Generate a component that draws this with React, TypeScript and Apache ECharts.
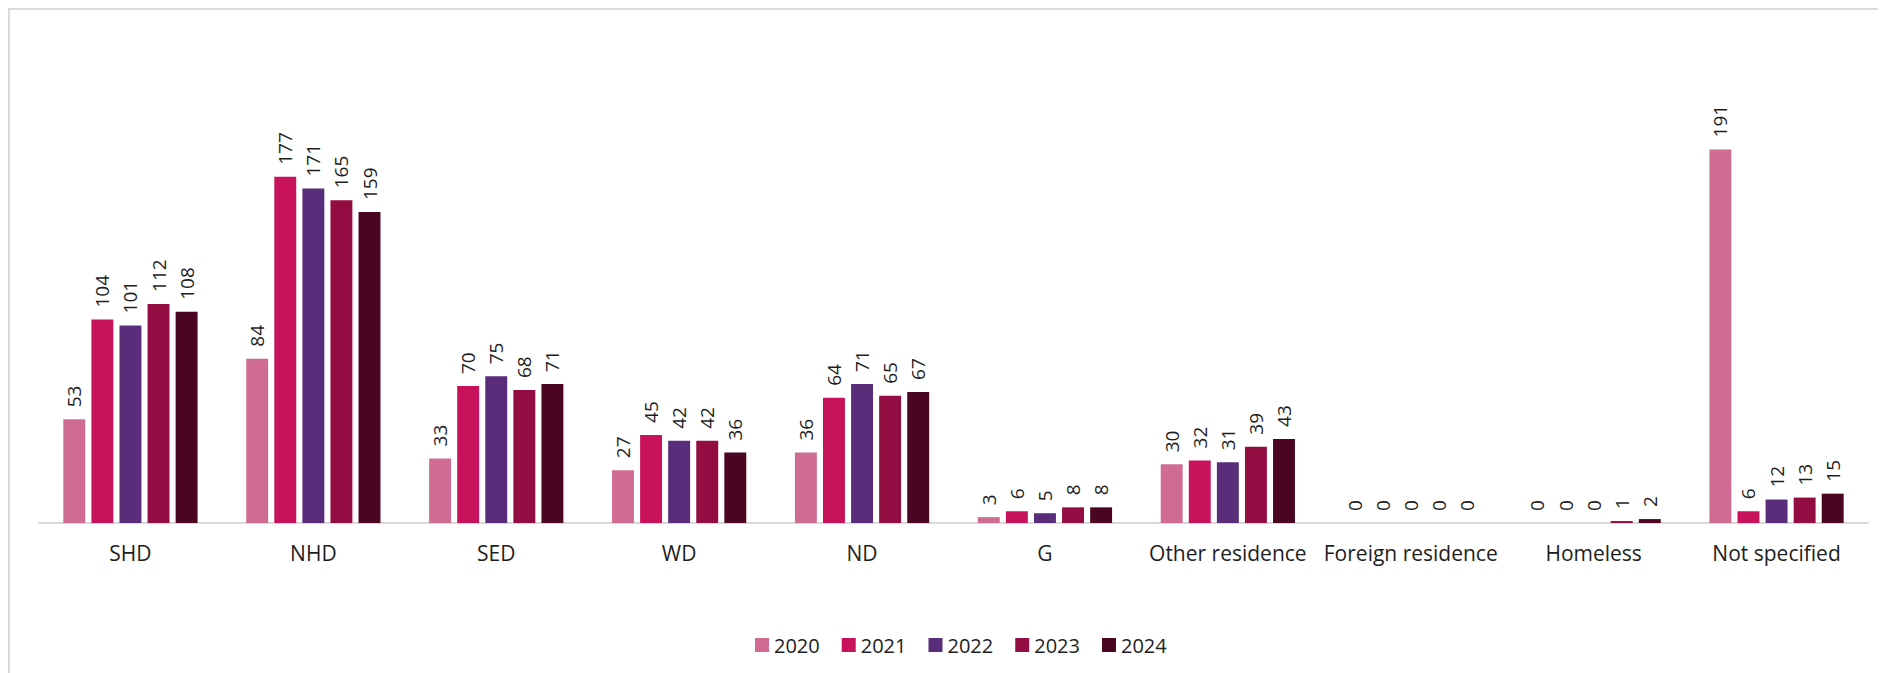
import React, { useEffect, useRef } from "react";
import * as echarts from "echarts";

const categories = [
  "SHD",
  "NHD",
  "SED",
  "WD",
  "ND",
  "G",
  "Other residence",
  "Foreign residence",
  "Homeless",
  "Not specified",
];

const years = ["2020", "2021", "2022", "2023", "2024"];

const values2020 = [53, 84, 33, 27, 36, 3, 30, 0, 0, 191];
const values2021 = [104, 177, 70, 45, 64, 6, 32, 0, 0, 6];
const values2022 = [101, 171, 75, 42, 71, 5, 31, 0, 0, 12];
const values2023 = [112, 165, 68, 42, 65, 8, 39, 0, 1, 13];
const values2024 = [108, 159, 71, 36, 67, 8, 43, 0, 2, 15];

const seriesValues = [values2020, values2021, values2022, values2023, values2024];
const colors = ["#D06C93", "#C8125B", "#5A2D7A", "#940D42", "#4A0522"];

const FONT = "'Open Sans', sans-serif";
const TEXT = "#1e1e1e";

export default function App() {
  const ref = useRef<HTMLDivElement>(null);

  useEffect(() => {
    if (!ref.current) return;
    const chart = echarts.init(ref.current, undefined, { renderer: "svg" });
    chart.setOption({
      animation: false,
      backgroundColor: "#ffffff",
      grid: { left: 29, right: 18, top: 24, bottom: 150, containLabel: false },
      legend: {
        data: years,
        left: 740,
        top: 620,
        icon: "rect",
        itemWidth: 14,
        itemHeight: 14,
        itemGap: 22,
        textStyle: { fontFamily: FONT, fontSize: 20, color: TEXT },
      },
      xAxis: {
        type: "category",
        data: categories,
        axisTick: { show: false },
        axisLine: { lineStyle: { color: "#d9d9d9", width: 2 } },
        axisLabel: {
          fontFamily: FONT,
          fontSize: 21,
          color: TEXT,
          margin: 19,
          interval: 0,
        },
      },
      yAxis: {
        type: "value",
        min: 0,
        max: 250,
        show: false,
        splitLine: { show: false },
      },
      series: years.map((y, i) => ({
        name: y,
        type: "bar",
        data: seriesValues[i],
        barGap: "28%",
        barCategoryGap: "26.6%",
        itemStyle: { color: colors[i] },
        label: {
          show: true,
          position: "top",
          rotate: 90,
          align: "left",
          verticalAlign: "middle",
          distance: 12,
          fontFamily: FONT,
          fontSize: 19,
          color: TEXT,
        },
      })),
    });
    return () => chart.dispose();
  }, []);

  return (
    <div
      style={{
        width: 1876,
        height: 663,
        borderLeft: "2px solid #d9d9d9",
        borderTop: "2px solid #d9d9d9",
      }}
    >
      <div ref={ref} style={{ width: 1876, height: 663 }} />
    </div>
  );
}
